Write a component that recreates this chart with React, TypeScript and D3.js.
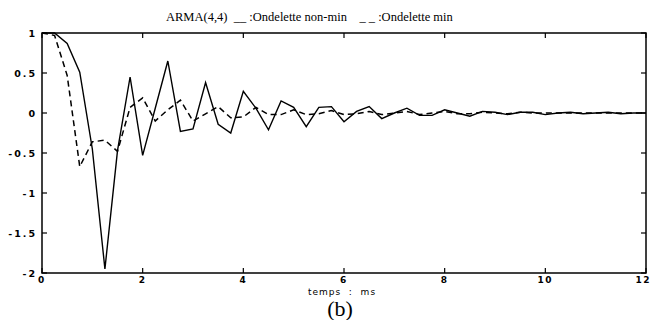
import React from "react";
import * as d3 from "d3";

const times: number[] = d3.range(0, 12.001, 0.25);

const nonMin: number[] = [
  1.0, 1.0, 0.87, 0.51, -0.45, -1.95, -0.47, 0.45, -0.53, 0.06, 0.65, -0.23, -0.2,
  0.38, -0.14, -0.25, 0.27, 0.06, -0.21, 0.15, 0.07, -0.17, 0.07, 0.08, -0.11,
  0.02, 0.08, -0.07, 0.0, 0.06, -0.03, -0.03, 0.04, 0.0, -0.04, 0.02, 0.01,
  -0.02, 0.01, 0.01, -0.02, 0.0, 0.01, -0.01, 0.0, 0.01, -0.01, 0.0, 0.0,
];

const minPhase: number[] = [
  1.0, 0.97, 0.47, -0.67, -0.36, -0.34, -0.48, 0.07, 0.19, -0.1, 0.04, 0.16, -0.1,
  -0.01, 0.08, -0.06, -0.05, 0.07, -0.02, -0.02, 0.04, -0.02, -0.01, 0.03, -0.02,
  -0.01, 0.02, -0.02, 0.0, 0.02, -0.02, 0.0, 0.02, -0.01, -0.01, 0.01, 0.0,
  -0.01, 0.01, 0.0, 0.0, 0.0, 0.0, 0.0, 0.0, 0.0, 0.0, 0.0, 0.0,
];

const xTicks: number[] = [0, 2, 4, 6, 8, 10, 12];
const yTicks: number[] = [1, 0.5, 0, -0.5, -1, -1.5, -2];
const yTickLabels: string[] = ["1", "0.5", "0", "-0.5", "-1", "-1.5", "-2"];

const titleText = "ARMA(4,4)  __ :Ondelette non-min    _ _ :Ondelette min";
const xLabel = "temps  :  ms";
const caption = "(b)";

export default function App() {
  const W = 652;
  const H = 320;
  const left = 42, right = 646, top = 33, bottom = 273;
  const x = d3.scaleLinear().domain([0, 12]).range([left, right]);
  const y = d3.scaleLinear().domain([-2, 1]).range([bottom, top]);
  const line = d3
    .line<number>()
    .x((_, i) => x(times[i]))
    .y((d) => y(d));
  const tickLen = 5;
  const tickFont = "'DejaVu Sans', sans-serif";
  return (
    <svg
      width={W}
      height={H}
      style={{ position: "absolute", left: 0, top: 0, background: "#fff" }}
    >
      <rect x={0} y={0} width={W} height={H} fill="#fff" />
      <text
        x={166}
        y={21}
        fontFamily="'Liberation Serif', 'Times New Roman', serif"
        fontSize={12.5}
        fill="#000"
        style={{ whiteSpace: "pre" }}
      >
        {titleText}
      </text>
      <path
        d={line(minPhase) || ""}
        fill="none"
        stroke="#000"
        strokeWidth={1.5}
        strokeDasharray="6,4"
      />
      <path d={line(nonMin) || ""} fill="none" stroke="#000" strokeWidth={1.4} />
      <rect
        x={left}
        y={top}
        width={right - left}
        height={bottom - top}
        fill="none"
        stroke="#000"
        strokeWidth={1.5}
      />
      {xTicks.map((t, i) => {
        const last = i === xTicks.length - 1;
        return (
          <g key={"x" + t}>
            <line x1={x(t)} x2={x(t)} y1={bottom} y2={bottom - tickLen} stroke="#000" strokeWidth={1.2} />
            <line x1={x(t)} x2={x(t)} y1={top} y2={top + tickLen} stroke="#000" strokeWidth={1.2} />
            <text
              x={last ? x(t) + 5 : x(t)}
              y={283}
              textAnchor={last ? "end" : "middle"}
              fontFamily={tickFont}
              fontSize={9}
              letterSpacing={1.5}
              fontWeight="bold"
              fill="#000"
            >
              {String(t)}
            </text>
          </g>
        );
      })}
      {yTicks.map((v, i) => (
        <g key={"y" + v}>
          <line x1={left} x2={left + tickLen} y1={y(v)} y2={y(v)} stroke="#000" strokeWidth={1.2} />
          <line x1={right} x2={right - tickLen} y1={y(v)} y2={y(v)} stroke="#000" strokeWidth={1.2} />
          <text
            x={37}
            y={y(v) + 3.5}
            textAnchor="end"
            fontFamily={tickFont}
            fontSize={9.5}
            letterSpacing={2}
            fontWeight="bold"
            fill="#000"
          >
            {yTickLabels[i]}
          </text>
        </g>
      ))}
      <text
        x={342}
        y={295}
        textAnchor="middle"
        fontFamily={tickFont}
        fontSize={9}
        letterSpacing={1}
        fill="#000"
        style={{ whiteSpace: "pre" }}
      >
        {xLabel}
      </text>
      <text
        x={340}
        y={316}
        textAnchor="middle"
        fontFamily="'Liberation Serif', 'Times New Roman', serif"
        fontSize={22}
        fill="#000"
      >
        {caption}
      </text>
    </svg>
  );
}
